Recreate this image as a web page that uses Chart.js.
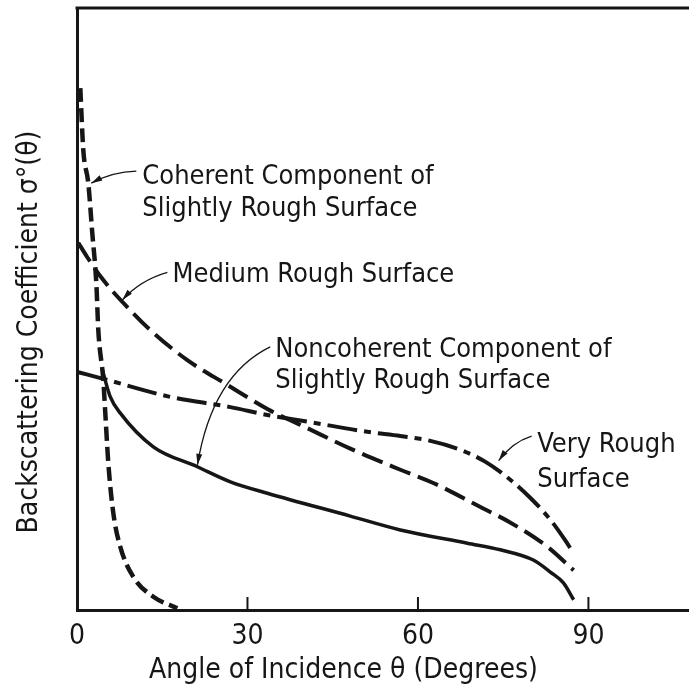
<!DOCTYPE html>
<html>
<head>
<meta charset="utf-8">
<script src="https://cdn.jsdelivr.net/npm/chart.js@4.4.0/dist/chart.umd.min.js"></script>
<style>
  html, body { margin: 0; padding: 0; background: #fff; }
  #wrap { width: 689px; height: 688px; }
</style>
</head>
<body>
<div id="wrap"><canvas id="chart" width="689" height="688"></canvas></div>
<script>
// angle of incidence in degrees, backscatter in relative units (no y scale)
const coherentX = [0.58, 1.11, 1.99, 2.69, 3.40, 3.75, 4.63, 4.98, 5.51, 6.39, 7.62, 9.91, 13.43, 17.66];
const coherentY = [86.7, 76.4, 70.9, 62.6, 54.3, 46.5, 38.2, 32.7, 24.4, 16.1, 10.5, 5.5, 2.2, 0.3];

const mediumX = [0.23, 1.81, 4.63, 8.86, 12.9, 19.42, 26.46, 33.5, 40.55, 48.1, 56.9, 62.7, 71.0, 76.3, 82.8, 87.4];
const mediumY = [61.0, 58.6, 54.8, 50.3, 46.5, 41.5, 37.4, 33.4, 30.2, 26.8, 23.3, 21.1, 17.1, 14.5, 10.5, 6.6];

const veryRoughX = [0.23, 4.63, 16.43, 27.0, 33.5, 41.1, 51.1, 56.9, 62.2, 67.5, 71.9, 76.3, 79.8, 83.3, 85.9, 87.2];
const veryRoughY = [39.5, 38.4, 35.4, 33.7, 32.4, 31.2, 29.6, 28.9, 28.1, 26.6, 24.6, 21.6, 18.6, 15.0, 11.6, 9.7];

const noncoherentX = [4.45, 5.86, 7.62, 13.43, 21.18, 26.99, 33.5, 48.1, 56.9, 68.7, 74.5, 80.3, 83.3, 85.6, 87.4];
const noncoherentY = [39.9, 35.4, 32.7, 27.1, 23.8, 21.3, 19.4, 15.6, 13.3, 11.1, 10.0, 8.3, 6.3, 4.5, 1.7];

const xTicks = [0, 30, 60, 90];
const xTitle = 'Angle of Incidence θ (Degrees)';
const yTitle = 'Backscattering Coefficient σ°(θ)';

// callouts: text lines placed in data units, arrow = start, control, tip
const notes = [
    { lines: [['Coherent Component of', 11.5, 70.8], ['Slightly Rough Surface', 11.5, 65.4]],
      arrow: [[10.44, 72.9], [6.21, 72.8], [2.52, 70.9]] },
    { lines: [['Medium Rough Surface', 16.8, 54.5]],
      arrow: [[15.9, 56.1], [11.1, 54.8], [7.98, 51.5]] },
    { lines: [['Noncoherent Component of', 34.9, 42.0], ['Slightly Rough Surface', 34.9, 36.9]],
      arrow: [[34.0, 43.7], [23.8, 39.0], [21.2, 24.1]] },
    { lines: [['Very Rough', 81.0, 26.2], ['Surface', 81.0, 20.4]],
      arrow: [[80.0, 28.9], [76.6, 27.9], [74.2, 24.8]] }
];

const ink = '#161616';
const fontFamily = '"DejaVu Sans Condensed", "DejaVu Sans", sans-serif';

function toPoints(xs, ys) {
    return xs.map((x, i) => ({ x: x, y: ys[i] }));
}

function curve(xs, ys, dash, width) {
    return {
        data: toPoints(xs, ys),
        borderColor: ink,
        borderWidth: width,
        borderDash: dash,
        borderCapStyle: 'butt',
        pointRadius: 0,
        fill: false,
        cubicInterpolationMode: 'monotone'
    };
}

// frame top, inward ticks, axis titles and callouts
const decorations = {
    id: 'decorations',
    afterDraw(chart) {
        const ctx = chart.ctx;
        const area = chart.chartArea;
        const xs = chart.scales.x;
        const ys = chart.scales.y;
        ctx.save();
        ctx.strokeStyle = ink;
        ctx.fillStyle = ink;

        ctx.lineWidth = 3;
        ctx.beginPath();
        ctx.moveTo(area.left - 1.5, area.top);
        ctx.lineTo(area.right, area.top);
        ctx.stroke();

        ctx.lineWidth = 2;
        xTicks.slice(1).forEach(v => {
            const px = xs.getPixelForValue(v);
            ctx.beginPath();
            ctx.moveTo(px, area.bottom);
            ctx.lineTo(px, area.bottom - 13);
            ctx.stroke();
        });

        ctx.font = '28px ' + fontFamily;
        ctx.textBaseline = 'alphabetic';
        ctx.textAlign = 'center';
        ctx.fillText(xTitle, xs.getPixelForValue(46.9), 678);

        ctx.save();
        ctx.translate(37, 332);
        ctx.rotate(-Math.PI / 2);
        ctx.fillText(yTitle, 0, 0);
        ctx.restore();

        ctx.font = '27px ' + fontFamily;
        ctx.textAlign = 'left';
        notes.forEach(n => {
            n.lines.forEach(l => {
                ctx.fillText(l[0], xs.getPixelForValue(l[1]), ys.getPixelForValue(l[2]));
            });
            const p = n.arrow.map(a => [xs.getPixelForValue(a[0]), ys.getPixelForValue(a[1])]);
            ctx.lineWidth = 1.3;
            ctx.beginPath();
            ctx.moveTo(p[0][0], p[0][1]);
            ctx.quadraticCurveTo(p[1][0], p[1][1], p[2][0], p[2][1]);
            ctx.stroke();
            const ang = Math.atan2(p[2][1] - p[1][1], p[2][0] - p[1][0]);
            const len = 11, half = 3;
            ctx.beginPath();
            ctx.moveTo(p[2][0], p[2][1]);
            ctx.lineTo(p[2][0] - len * Math.cos(ang) + half * Math.sin(ang),
                       p[2][1] - len * Math.sin(ang) - half * Math.cos(ang));
            ctx.lineTo(p[2][0] - len * Math.cos(ang) - half * Math.sin(ang),
                       p[2][1] - len * Math.sin(ang) + half * Math.cos(ang));
            ctx.closePath();
            ctx.fill();
        });
        ctx.restore();
    }
};

new Chart(document.getElementById('chart'), {
    type: 'line',
    data: {
        datasets: [
            curve(coherentX, coherentY, [14, 6], 4.5),
            curve(mediumX, mediumY, [22, 8], 4),
            curve(veryRoughX, veryRoughY, [30, 7, 7, 7], 4),
            curve(noncoherentX, noncoherentY, [], 3.5)
        ]
    },
    options: {
        responsive: false,
        animation: false,
        devicePixelRatio: 1,
        layout: { padding: { top: 8, left: 0, right: 0, bottom: 0 } },
        plugins: { legend: { display: false }, tooltip: { enabled: false } },
        scales: {
            x: {
                type: 'linear',
                min: 0,
                max: 107.7,
                afterBuildTicks: scale => { scale.ticks = xTicks.map(v => ({ value: v })); },
                afterFit: scale => { scale.height = 78; },
                ticks: { color: ink, font: { family: fontFamily, size: 28 }, padding: 2, maxRotation: 0 },
                grid: { display: false },
                border: { display: true, width: 3, color: ink }
            },
            y: {
                min: 0,
                max: 100,
                afterFit: scale => { scale.width = 77; },
                ticks: { display: false },
                grid: { display: false },
                border: { display: true, width: 3, color: ink }
            }
        }
    },
    plugins: [decorations]
});
</script>
</body>
</html>
